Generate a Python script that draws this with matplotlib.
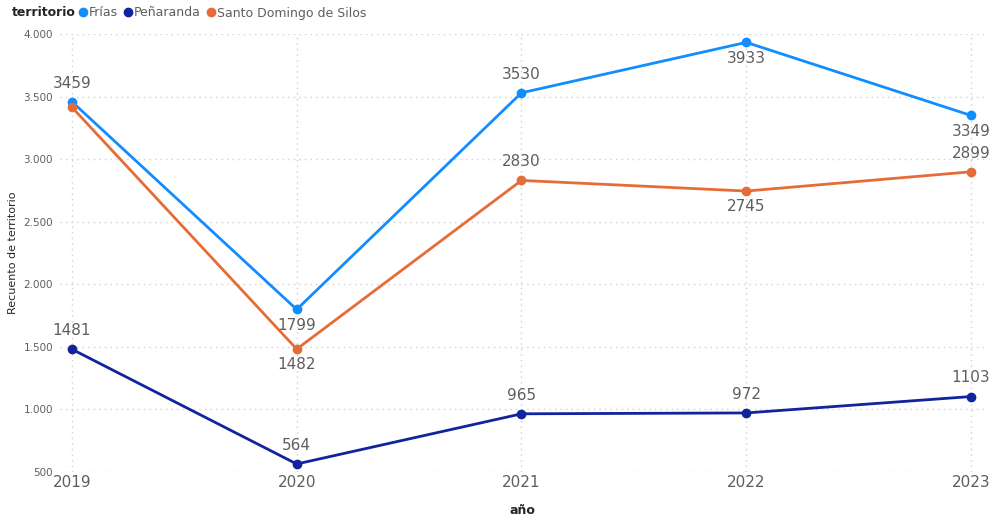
import matplotlib.pyplot as plt
from matplotlib.lines import Line2D
from matplotlib.ticker import FuncFormatter

# Data
years = [2019, 2020, 2021, 2022, 2023]
frias = [3459, 1799, 3530, 3933, 3349]
penaranda = [1481, 564, 965, 972, 1103]
santo_domingo = [3415, 1482, 2830, 2745, 2899]

series_names = ['Frías', 'Peñaranda', 'Santo Domingo de Silos']
colors = ['#118DFF', '#12239E', '#E66C37']

# label placement per point: 1 above, -1 below, 0 none
frias_pos = [1, -1, 1, -1, -1]
penaranda_pos = [1, 1, 1, 1, 1]
santo_pos = [0, -1, 1, -1, 1]

fig = plt.figure(figsize=(9.92, 5.2), dpi=100)
ax = fig.add_axes([60 / 992, 1 - 472 / 520, 925 / 992, 438 / 520])

label_color = '#605E5C'
for vals, pos, col in zip([frias, penaranda, santo_domingo],
                          [frias_pos, penaranda_pos, santo_pos], colors):
    ax.plot(years, vals, color=col, lw=2, marker='o', ms=6, zorder=3)
    for x, v, p in zip(years, vals, pos):
        if p == 0:
            continue
        off = 8 if p > 0 else -6
        ax.annotate(str(v), (x, v), xytext=(0, off), textcoords='offset points',
                    ha='center', va='bottom' if p > 0 else 'top',
                    fontsize=11, color=label_color)

ax.set_xlim(2018.947, 2023.062)
ax.set_ylim(500, 4000)
ax.set_xticks(years)
ax.set_yticks(range(500, 4001, 500))
ax.yaxis.set_major_formatter(FuncFormatter(lambda v, _: f'{int(v):,}'.replace(',', '.')))
ax.grid(True, color='#D0D0D0', linestyle=(0, (1, 3)), lw=1)
ax.set_axisbelow(True)
for s in ax.spines.values():
    s.set_visible(False)
ax.tick_params(axis='y', length=0, labelsize=7.5, labelcolor='#605E5C', pad=5)
ax.tick_params(axis='x', length=0, labelsize=11, labelcolor='#605E5C', pad=2)

ax.set_xlabel('año', fontsize=9, color='#252423', fontweight='bold', labelpad=10)
ax.set_ylabel('Recuento de territorio', fontsize=8, color='#252423', labelpad=4)

# legend
fig.text(12 / 992, 1 - 13 / 520, 'territorio', fontsize=9, fontweight='bold',
         color='#252423', va='center', ha='left')
handles = [Line2D([], [], color=c, marker='o', ls='none', ms=6) for c in colors]
fig.legend(handles, series_names, loc='center left', bbox_to_anchor=(70 / 992, 1 - 13 / 520),
           ncol=3, frameon=False, fontsize=9, handletextpad=0.0, columnspacing=0.3,
           handlelength=1.0, borderpad=0, labelcolor='#605E5C')

fig.savefig('out.png', dpi=100)
